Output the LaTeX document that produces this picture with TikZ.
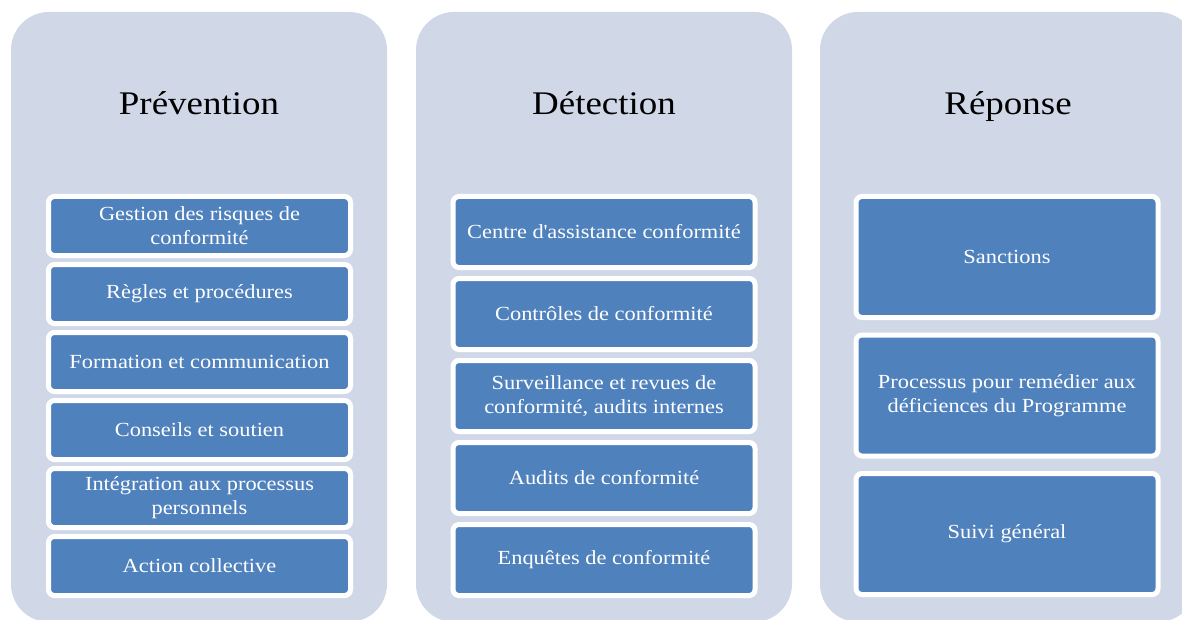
\documentclass[tikz,border=0pt]{standalone}
\usepackage{fontspec}
\setmainfont{Liberation Serif}[FakeStretch=1.12]
\definecolor{colbg}{RGB}{208,216,232}
\definecolor{itemblue}{RGB}{79,129,189}
\tikzset{
  column/.style={fill=colbg, rounded corners=38pt, minimum width=376pt, minimum height=610pt, inner sep=0pt},
  heading/.style={font=\fontsize{33}{38}\selectfont, text=black, anchor=base, inner sep=0pt},
  item/.style={fill=itemblue, draw=white, line width=5pt, rounded corners=6pt, text=white, align=center,
    font=\fontsize{20}{24}\selectfont, minimum width=302pt, inner sep=0pt},
}

\begin{document}
\begin{tikzpicture}[x=1pt,y=-1pt]
  \useasboundingbox (0,0) rectangle (1182,620);
  \clip (0,0) rectangle (1182,620);
  \node[column] (cprev) at (199,317) {};
  \node[column] (cdet) at (604,317) {};
  \node[column] (crep) at (1008,317) {};
  \node[heading] (tprev) at (199,115) {Prévention};
  \node[heading] (tdet) at (604,115) {Détection};
  \node[heading] (trep) at (1008,115) {Réponse};
  \node[item, minimum height=59pt] (p1) at (199.5,226) {Gestion des risques de\\conformité};
  \node[item, minimum height=59pt] (p2) at (199.5,294) {Règles et procédures};
  \node[item, minimum height=59pt] (p3) at (199.5,362) {Formation et communication};
  \node[item, minimum height=59pt] (p4) at (199.5,430) {Conseils et soutien};
  \node[item, minimum height=59pt] (p5) at (199.5,498) {Intégration aux processus\\personnels};
  \node[item, minimum height=59pt] (p6) at (199.5,566) {Action collective};
  \node[item, minimum height=71pt] (d1) at (604,232) {Centre d\textquotesingle assistance conformité};
  \node[item, minimum height=71pt] (d2) at (604,314) {Contrôles de conformité};
  \node[item, minimum height=71pt] (d3) at (604,396) {Surveillance et revues de\\conformité, audits internes};
  \node[item, minimum height=71pt] (d4) at (604,478) {Audits de conformité};
  \node[item, minimum height=71pt] (d5) at (604,560) {Enquêtes de conformité};
  \node[item, minimum height=121pt] (r1) at (1007,257) {Sanctions};
  \node[item, minimum height=121pt] (r2) at (1007,395.5) {Processus pour remédier aux\\déficiences du Programme};
  \node[item, minimum height=121pt] (r3) at (1007,534) {Suivi général};
\end{tikzpicture}
\end{document}
